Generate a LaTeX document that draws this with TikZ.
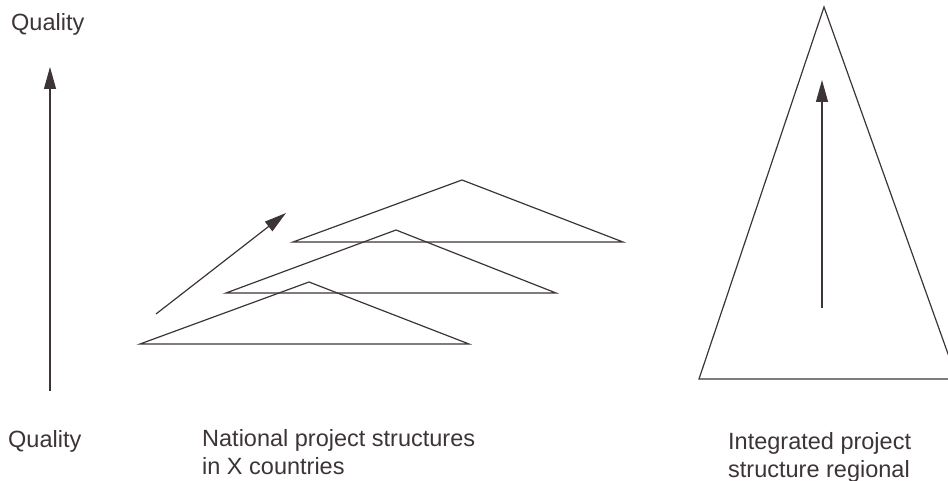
\documentclass[tikz,border=0pt]{standalone}
\usepackage{fontspec}
\setmainfont{Liberation Sans}
\usetikzlibrary{arrows.meta}
\definecolor{ink}{HTML}{3D3437}
\tikzset{
  outline/.style={draw=ink, line width=1.2pt, line join=miter},
  uparrow/.style={draw=ink, line width=1.2pt, -{Triangle[length=22pt,width=12pt]}},
  % for a two-line caption the base anchor sits on the last line
  caption/.style={text=ink, font=\fontsize{23.5}{28}\selectfont, inner sep=0pt,
                  anchor=base west, align=left},
}
\begin{document}
\begin{tikzpicture}[x=1pt, y=-1pt]
  \useasboundingbox (0,0) rectangle (948,481);
  \clip (0,0) rectangle (948,481);

  % quality axis on the left
  \node[caption] (qtop) at (11,31) {Quality};
  \coordinate (qlo) at (50,391);
  \coordinate (qhi) at (50,67);
  \draw[uparrow] (qlo) -- (qhi);
  \node[caption] (qbot) at (8,447) {Quality};

  % three stacked national structures
  \coordinate (a1) at (140,344); \coordinate (b1) at (469,344); \coordinate (c1) at (309,282);
  \coordinate (a2) at (226,293); \coordinate (b2) at (556,293); \coordinate (c2) at (396,230);
  \coordinate (a3) at (293,242); \coordinate (b3) at (623,242); \coordinate (c3) at (462,180);
  \draw[outline] (a3) -- (c3) -- (b3) -- cycle;
  \draw[outline] (a2) -- (c2) -- (b2) -- cycle;
  \draw[outline] (a1) -- (c1) -- (b1) -- cycle;

  \coordinate (dlo) at (156,314);
  \coordinate (dhi) at (286,213);
  \draw[uparrow] (dlo) -- (dhi);

  \node[caption] (nat) at (202,474) {National project structures\\in X countries};

  % integrated regional structure
  \coordinate (ra) at (699,379); \coordinate (rb) at (957,379); \coordinate (rc) at (824,7);
  \draw[outline] (ra) -- (rc) -- (rb) -- cycle;
  \coordinate (rlo) at (822,308);
  \coordinate (rhi) at (822,80);
  \draw[uparrow] (rlo) -- (rhi);

  \node[caption] (reg) at (728,477) {Integrated project\\structure regional};
\end{tikzpicture}
\end{document}
